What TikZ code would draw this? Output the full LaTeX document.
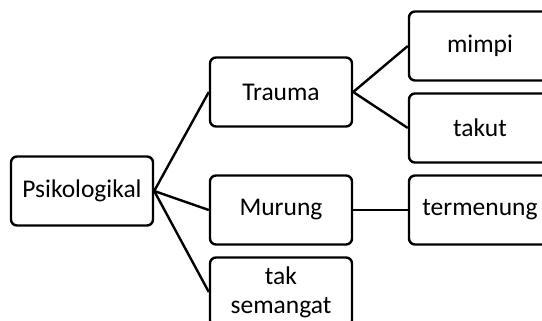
\documentclass[tikz,border=0pt]{standalone}
\usepackage{fontspec}
\setmainfont{Carlito}

\begin{document}
\begin{tikzpicture}[x=1pt,y=-1pt,
    box/.style={draw,line width=2.4pt,rounded corners=6pt,minimum width=142pt,minimum height=69pt,inner sep=0pt,align=center,font=\fontsize{25.5}{29}\selectfont},
    link/.style={line width=2.4pt}]

        \def\colA{82}
        \def\colB{281}
        \def\colC{480}

        \useasboundingbox (0,0) rectangle (542,321);
        \clip (0,0) rectangle (542,321);

        \node[box] (psikologikal) at (\colA,191) {Psikologikal};

        \node[box] (trauma) at (\colB,92) {Trauma};
        \node[box] (murung) at (\colB,210) {Murung};
        \node[box] (taksemangat) at (\colB,292) {tak\\semangat};

        \node[box] (mimpi) at (\colC,46) {mimpi};
        \node[box] (takut) at (\colC,128) {takut};
        \node[box] (termenung) at (\colC,210) {termenung};

        \draw[link] (psikologikal.east) -- (trauma.west);
        \draw[link] (psikologikal.east) -- (murung.west);
        \draw[link] (psikologikal.east) -- (taksemangat.west);

        \draw[link] (trauma.east) -- (mimpi.west);
        \draw[link] (trauma.east) -- (takut.west);
        \draw[link] (murung.east) -- (termenung.west);

\end{tikzpicture}
\end{document}
